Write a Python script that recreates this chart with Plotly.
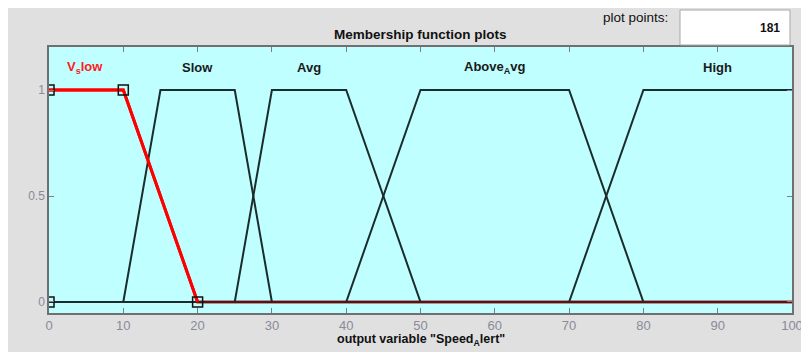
import plotly.graph_objects as go

# Membership function vertices (output variable "Speed_Alert", range 0..100)
vslow_x = [0, 10, 20, 100]
vslow_y = [1, 1, 0, 0]
slow_x = [0, 10, 15, 25, 30, 100]
slow_y = [0, 0, 1, 1, 0, 0]
avg_x = [0, 25, 30, 40, 50, 100]
avg_y = [0, 0, 1, 1, 0, 0]
above_x = [0, 40, 50, 70, 80, 100]
above_y = [0, 0, 1, 1, 0, 0]
high_x = [0, 70, 80, 100]
high_y = [0, 0, 1, 1]
marker_x = [0, 0, 10, 20]
marker_y = [0, 1, 1, 0]

labels = ["V<sub>s</sub>low", "Slow", "Avg", "Above<sub>A</sub>vg", "High"]
label_x = [4.8, 20, 35, 60, 90]
label_colors = ["#ff1a1a", "#1a1a1a", "#1a1a1a", "#1a1a1a", "#1a1a1a"]

x_ticks = [0, 10, 20, 30, 40, 50, 60, 70, 80, 90, 100]
y_ticks = [0, 0.5, 1]
y_ticklabels = ["0", "0.5", "1"]

BLACK = "#1c2c2c"
RED = "#ff0000"
FONT = "Liberation Sans, Arial"

fig = go.Figure()

fig.add_trace(go.Scatter(x=vslow_x, y=vslow_y, mode="lines",
                         line=dict(color=RED, width=3), hoverinfo="skip"))
for xs, ys in [(slow_x, slow_y), (avg_x, avg_y), (above_x, above_y), (high_x, high_y)]:
    fig.add_trace(go.Scatter(x=xs, y=ys, mode="lines",
                             line=dict(color=BLACK, width=2), hoverinfo="skip"))
fig.add_trace(go.Scatter(x=vslow_x[:3], y=vslow_y[:3], mode="lines",
                         line=dict(color=RED, width=3), hoverinfo="skip"))
fig.add_trace(go.Scatter(x=marker_x, y=marker_y, mode="markers",
                         marker=dict(symbol="square-open", size=10,
                                     color="#111111", line=dict(width=1.5)),
                         hoverinfo="skip"))

for t, lx, c in zip(labels, label_x, label_colors):
    fig.add_annotation(x=lx, y=1.104, xref="x", yref="y", text="<b>%s</b>" % t,
                       showarrow=False, yanchor="middle",
                       font=dict(size=13, color=c, family=FONT))

# The page has an 8px body margin; figure is 801x344 placed at (8,8).
OFF = 8
W, H = 801, 344
# plot area in page pixels: x 49..792, y 47..313
L = 49 - OFF
T = 47 - OFF
R = W - (792 - OFF)
B = H - (313 - OFF)
pw, ph = W - L - R, H - T - B

def px(x_page):
    return (x_page - OFF - L) / pw

def py(y_page):
    return (H - B - (y_page - OFF)) / ph

shapes = [
    dict(type="rect", xref="paper", yref="paper", x0=px(680), x1=px(790), y0=py(45), y1=py(10),
         fillcolor="white", line=dict(color="#a8a8a8", width=1)),
]

fig.add_annotation(x=0.5, y=py(35), xref="paper", yref="paper", yanchor="middle",
                   text="<b>Membership function plots</b>", showarrow=False,
                   font=dict(size=13.5, color="#111111", family=FONT))
fig.add_annotation(x=px(670), y=py(18), xref="paper", yref="paper", xanchor="right",
                   yanchor="middle", text="plot points:", showarrow=False,
                   font=dict(size=13.5, color="#111111", family=FONT))
fig.add_annotation(x=px(782), y=py(28), xref="paper", yref="paper", xanchor="right",
                   yanchor="middle", text="<b>181</b>", showarrow=False,
                   font=dict(size=12, color="#111111", family=FONT))
fig.add_annotation(x=0.5, y=py(340), xref="paper", yref="paper", yanchor="middle",
                   text='<b>output variable "Speed<sub>A</sub>lert"</b>', showarrow=False,
                   font=dict(size=12.5, color="#111111", family=FONT))

fig.update_layout(
    width=W, height=H,
    margin=dict(l=L, r=R, t=T, b=B, pad=0),
    paper_bgcolor="#e0e0e0",
    plot_bgcolor="#bfffff",
    showlegend=False,
    shapes=shapes,
    font=dict(family=FONT, size=12, color="#888888"),
)
fig.update_xaxes(range=[0, 100], tickvals=x_ticks, ticks="inside", ticklen=5,
                 tickcolor="#808080", showline=True, linecolor="#707070", linewidth=1.5,
                 mirror="ticks", showgrid=False, zeroline=False, automargin=False,
                 tickfont=dict(size=13, color="#8a8a98"), fixedrange=True)
fig.update_yaxes(range=[-0.052, 1.203], tickvals=y_ticks, ticktext=y_ticklabels,
                 ticks="inside", ticklen=5, tickcolor="#808080", showline=True,
                 linecolor="#707070", linewidth=1.5, mirror="ticks", showgrid=False,
                 zeroline=False, automargin=False,
                 tickfont=dict(size=12, color="#8a8a98"), fixedrange=True)

fig.write_html("out.html")
